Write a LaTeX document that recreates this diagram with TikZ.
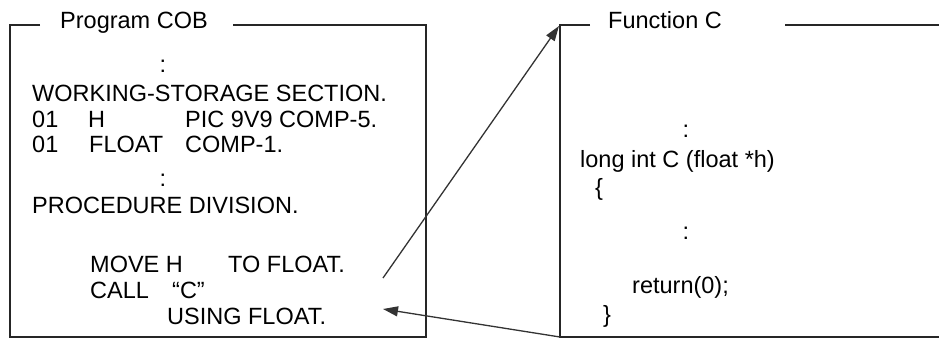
\documentclass[tikz,border=0pt]{standalone}
\usepackage{fontspec}
\setmainfont{Liberation Sans}
\usetikzlibrary{arrows.meta, positioning}

\begin{document}
\begin{tikzpicture}[
  x=1pt, y=-1pt,
  txt/.style={anchor=base west, inner sep=0pt, font=\fontsize{23.5}{25}\selectfont},
  dots/.style={txt, anchor=base},
  frame/.style={line width=1.6pt, black!85},
  every edge/.style={draw, line width=1.3pt, black!80, -{Triangle[length=15pt, width=10pt]}}
]
  \useasboundingbox (0,0) rectangle (939,340);
  % Program COB frame
  \draw[frame] (40,25) -- (10,25) -- (10,337) -- (426,337) -- (426,25) -- (233,25);
  \node[txt] (cobtitle) at (60,28) {Program COB};
  \node[dots] (dotsA) at (163,72) {:};
  \node[txt] (wss) at (32,101) {WORKING-STORAGE SECTION.};
  \node[txt] (lvlH) at (32,127) {01};
  \node[txt] (nameH) at (88,127) {H};
  \node[txt] (picH) at (185,127) {PIC 9V9 COMP-5.};
  \node[txt] (lvlF) at (32,152) {01};
  \node[txt] (nameF) at (89,152) {FLOAT};
  \node[txt] (picF) at (185,152) {COMP-1.};
  \node[dots] (dotsB) at (163,186) {:};
  \node[txt] (proc) at (32,213) {PROCEDURE DIVISION.};
  \node[txt] (move) at (90,272) {MOVE H};
  \node[txt] (moveto) at (228,272) {TO FLOAT.};
  \node[txt] (call) at (90,298) {CALL};
  \node[txt] (callname) at (172,298) {“C”};
  \node[txt] (using) at (167,324) {USING FLOAT.};
  % Function C frame
  \draw[frame] (590,25) -- (560,25) -- (560,337) -- (939,337);
  \draw[frame] (785,25) -- (939,25);
  \node[txt] (fctitle) at (608,28) {Function C};
  \node[dots] (dotsC) at (686,137) {:};
  \node[txt] (decl) at (580,167) {long int C (float *h)};
  \node[txt] (lbrace) at (595,195) {\{};
  \node[dots] (dotsD) at (686,239) {:};
  \node[txt] (ret) at (632,293) {return(0);};
  \node[txt] (rbrace) at (603,322) {\}};
  % call and return
  \coordinate (callend) at (383,278);
  \coordinate (usingend) at (383,309);
  \coordinate (fcnw) at (559,26);
  \coordinate (fcsw) at (560,337);
  \draw (callend) edge (fcnw);
  \draw (fcsw) edge (usingend);
\end{tikzpicture}
\end{document}
